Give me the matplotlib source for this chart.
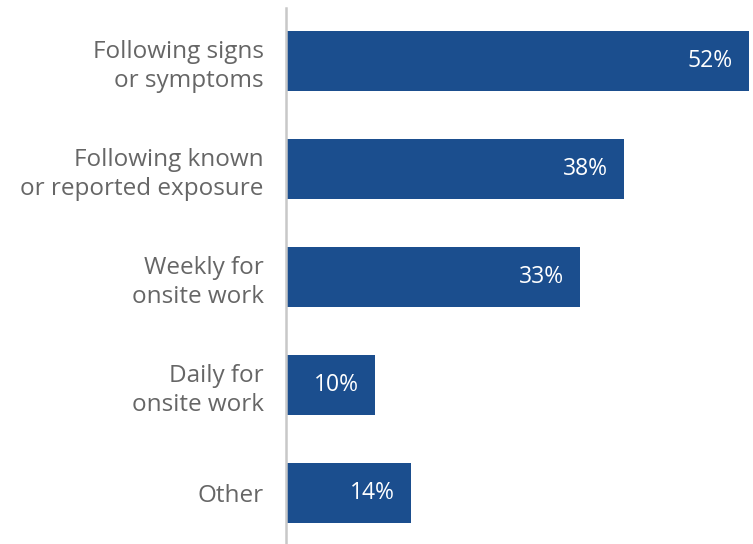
import matplotlib.pyplot as plt

categories = ['Following signs\nor symptoms',
              'Following known\nor reported exposure',
              'Weekly for\nonsite work',
              'Daily for\nonsite work',
              'Other']
values = [52, 38, 33, 10, 14]

bar_color = '#1b4e8e'
text_color = '#666666'

plt.rcParams['font.family'] = ['Open Sans', 'DejaVu Sans']

fig = plt.figure(figsize=(7.53, 5.44), dpi=100)
ax = fig.add_axes([286 / 753, 0, 463 / 753, 536 / 544])

pos = list(range(len(categories)))
ax.barh(pos, values, height=60 / 108, color=bar_color)

for p, v in zip(pos, values):
    ax.annotate(f'{v}%', xy=(v, p), xytext=(-16, 0), textcoords='offset pixels',
                ha='right', va='center', color='white', fontsize=16.5)

ax.set_xlim(0, 52)
ax.set_ylim(4.472, -0.491)
ax.set_yticks(pos)
ax.set_yticklabels(categories, fontsize=17.5, color=text_color, linespacing=1.28,
                   ha='right')
ax.tick_params(axis='y', length=0, pad=16)
ax.set_xticks([])

for side in ['top', 'right', 'bottom']:
    ax.spines[side].set_visible(False)
ax.spines['left'].set_color('#c8c8c8')
ax.spines['left'].set_linewidth(1.8)

fig.savefig('out.png', dpi=100)
